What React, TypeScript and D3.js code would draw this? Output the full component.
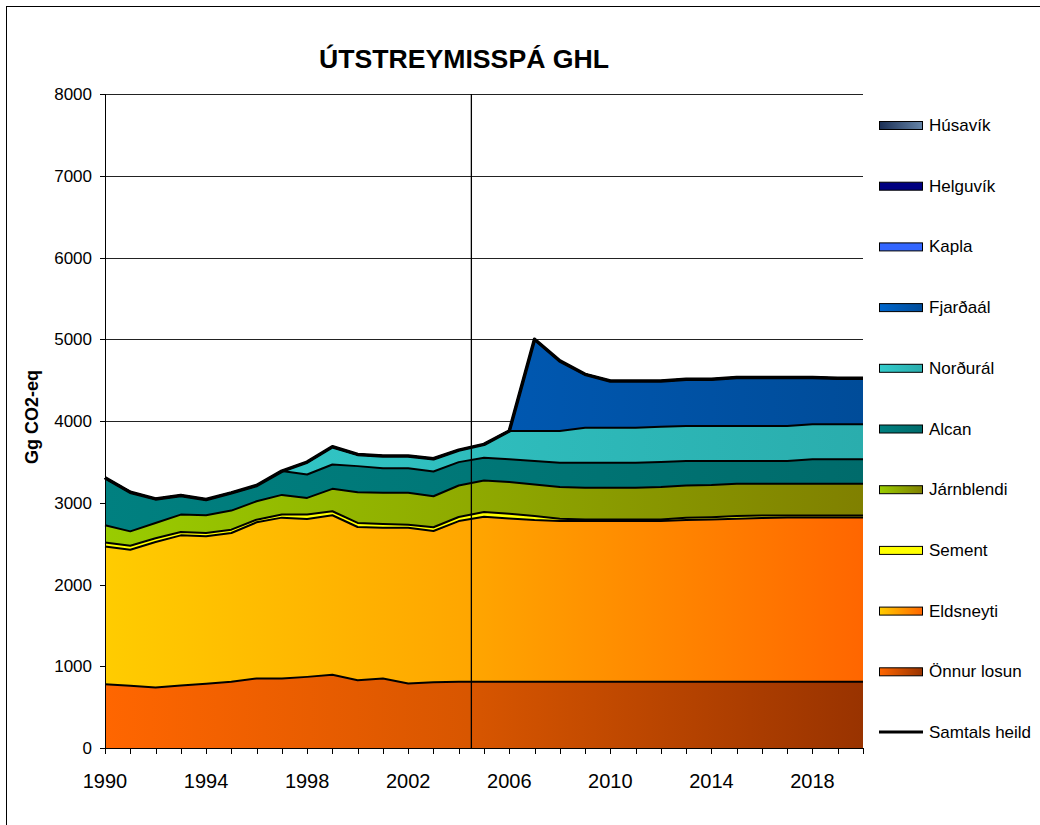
import React from 'react';
import * as d3 from 'd3';

const years = [1990, 1991, 1992, 1993, 1994, 1995, 1996, 1997, 1998, 1999, 2000, 2001, 2002, 2003, 2004, 2005, 2006, 2007, 2008, 2009, 2010, 2011, 2012, 2013, 2014, 2015, 2016, 2017, 2018, 2019, 2020];

const onnurLosun = [780, 760, 740, 765, 785, 810, 850, 850, 870, 895, 830, 850, 790, 805, 810, 810, 810, 810, 810, 810, 810, 810, 810, 810, 810, 810, 810, 810, 810, 810, 810];
const eldsneyti = [1686, 1665, 1780, 1836, 1804, 1820, 1911, 1968, 1932, 1952, 1873, 1845, 1905, 1849, 1966, 2019, 1998, 1978, 1966, 1966, 1966, 1966, 1966, 1978, 1986, 1994, 2002, 2010, 2010, 2010, 2010];
const sement = [49, 49, 45, 41, 41, 41, 32, 37, 53, 49, 50, 45, 37, 46, 50, 57, 57, 49, 28, 20, 20, 20, 20, 28, 28, 33, 33, 25, 25, 25, 25];
const jarnblendi = [209, 176, 188, 213, 217, 233, 225, 241, 204, 274, 376, 381, 389, 380, 385, 387, 388, 387, 388, 388, 388, 388, 396, 396, 392, 396, 388, 388, 388, 388, 388];
const alcan = [581, 479, 294, 233, 192, 217, 193, 291, 287, 298, 319, 302, 302, 302, 286, 278, 278, 286, 298, 306, 306, 306, 306, 298, 294, 277, 277, 277, 298, 298, 298];
const nordural = [0, 0, 0, 0, 0, 0, 0, 0, 151, 217, 143, 148, 148, 156, 147, 163, 347, 368, 388, 428, 428, 428, 432, 429, 429, 429, 429, 429, 428, 428, 428];
const fjardaal = [0, 0, 0, 0, 0, 0, 0, 0, 0, 0, 0, 0, 0, 0, 0, 0, 0, 1122, 857, 653, 572, 572, 560, 571, 571, 592, 592, 592, 572, 563, 563];
const kapla = [0, 0, 0, 0, 0, 0, 0, 0, 0, 0, 0, 0, 0, 0, 0, 0, 0, 0, 0, 0, 0, 0, 0, 0, 0, 0, 0, 0, 0, 0, 0];
const helguvik = [0, 0, 0, 0, 0, 0, 0, 0, 0, 0, 0, 0, 0, 0, 0, 0, 0, 0, 0, 0, 0, 0, 0, 0, 0, 0, 0, 0, 0, 0, 0];
const husavik = [0, 0, 0, 0, 0, 0, 0, 0, 0, 0, 0, 0, 0, 0, 0, 0, 0, 0, 0, 0, 0, 0, 0, 0, 0, 0, 0, 0, 0, 0, 0];

const seriesKeys = ['onnur', 'eldsneyti', 'sement', 'jarnblendi', 'alcan', 'nordural', 'fjardaal', 'kapla', 'helguvik', 'husavik'];
const seriesNames = ['Önnur losun', 'Eldsneyti', 'Sement', 'Járnblendi', 'Alcan', 'Norðurál', 'Fjarðaál', 'Kapla', 'Helguvík', 'Húsavík'];
const seriesValues = [onnurLosun, eldsneyti, sement, jarnblendi, alcan, nordural, fjardaal, kapla, helguvik, husavik];
// gradient stops: left, middle, right
const seriesColors = [
  ['#FF6600', '#D85600', '#993300'],
  ['#FFCC00', '#FFA600', '#FF6600'],
  ['#FFFF00', '#FFFF00', '#FFFF00'],
  ['#99CC00', '#8FAA00', '#808000'],
  ['#008080', '#007777', '#006B6B'],
  ['#33CCCC', '#2FBDBD', '#2AADAD'],
  ['#0066CC', '#0059B3', '#004C99'],
  ['#3366FF', '#3366FF', '#3366FF'],
  ['#000080', '#000080', '#000080'],
  ['#1B2F55', '#40597E', '#6685A8'],
];

const yTicks = [0, 1000, 2000, 3000, 4000, 5000, 6000, 7000, 8000];
const xLabelYears = [1990, 1994, 1998, 2002, 2006, 2010, 2014, 2018];
const projectionStart = 2004.5;
const totalName = 'Samtals heild';
const title = 'ÚTSTREYMISSPÁ GHL';
const yTitle = 'Gg CO2-eq';

const FONT = '"Liberation Sans", Arial, sans-serif';

export default function App() {
  const W = 1040;
  const H = 825;
  const left = 105, right = 863, top = 94, bottom = 748;

  const rows = years.map((yr, i) => {
    const r: any = { year: yr };
    seriesKeys.forEach((k, j) => { r[k] = seriesValues[j][i]; });
    return r;
  });
  const totals = rows.map((r) => seriesKeys.reduce((s, k) => s + r[k], 0));

  const x = d3.scaleLinear().domain([years[0], years[years.length - 1]]).range([left, right]);
  const y = d3.scaleLinear().domain([0, 8000]).range([bottom, top]);

  const stacked = d3.stack<any>().keys(seriesKeys)(rows);
  const area = d3.area<any>()
    .x((d: any) => x(d.data.year))
    .y0((d: any) => y(d[0]))
    .y1((d: any) => y(d[1]));
  const topLine = d3.line<any>()
    .x((d: any) => x(d.data.year))
    .y((d: any) => y(d[1]));
  const totalLine = d3.line<number>()
    .x((_, i) => x(years[i]))
    .y((d) => y(d));

  const legendX = 879;
  const legendY0 = 125;
  const legendStep = 60.7;
  const legendItems = seriesKeys.map((k, i) => ({ key: k, name: seriesNames[i], idx: i })).reverse();

  return (
    <svg width={W} height={H} style={{ position: 'absolute', left: 0, top: 0, background: '#fff' }} fontFamily={FONT}>
      <defs>
        {seriesColors.map((c, i) => (
          <linearGradient key={'p' + i} id={'pg' + i} gradientUnits="userSpaceOnUse" x1={left} x2={right} y1={0} y2={0}>
            <stop offset="0" stopColor={c[0]} />
            <stop offset="0.48" stopColor={c[1]} />
            <stop offset="1" stopColor={c[2]} />
          </linearGradient>
        ))}
        {seriesColors.map((c, i) => (
          <linearGradient key={'l' + i} id={'lg' + i} x1="0" x2="1" y1="0" y2="0">
            <stop offset="0" stopColor={c[0]} />
            <stop offset="1" stopColor={c[2]} />
          </linearGradient>
        ))}
      </defs>
      <rect x={0} y={0} width={W} height={H} fill="#fff" />
      <rect x={6.5} y={6.5} width={W + 20} height={H + 20} fill="none" stroke="#000" strokeWidth={1} />

      <text x={464} y={68} textAnchor="middle" fontSize={26} fontWeight="bold" fill="#000" textLength={290} lengthAdjust="spacingAndGlyphs">{title}</text>

      {/* gridlines */}
      {yTicks.filter((t) => t > 0).map((t) => (
        <line key={'g' + t} x1={left} x2={right} y1={Math.round(y(t)) + 0.5} y2={Math.round(y(t)) + 0.5} stroke="#222" strokeWidth={1} />
      ))}

      {/* areas */}
      {stacked.map((s, i) => (
        <path key={'a' + i} d={area(s) || ''} fill={`url(#pg${i})`} stroke="none" />
      ))}
      {stacked.map((s, i) => (
        <path key={'tl' + i} d={topLine(s) || ''} fill="none" stroke="#000" strokeWidth={2} strokeLinejoin="round" />
      ))}
      <path d={totalLine(totals) || ''} fill="none" stroke="#000" strokeWidth={3.5} strokeLinejoin="round" />

      {/* projection marker */}
      <line x1={x(projectionStart)} x2={x(projectionStart)} y1={top} y2={bottom} stroke="#000" strokeWidth={1.3} />

      {/* axes */}
      <line x1={left + 0.5} x2={left + 0.5} y1={top} y2={bottom} stroke="#000" strokeWidth={1} />
      <line x1={left} x2={right} y1={bottom + 0.5} y2={bottom + 0.5} stroke="#000" strokeWidth={1} />
      {yTicks.map((t) => (
        <g key={'yt' + t}>
          <line x1={left - 5} x2={left} y1={Math.round(y(t)) + 0.5} y2={Math.round(y(t)) + 0.5} stroke="#000" />
          <text x={92} y={y(t) + 6} textAnchor="end" fontSize={17} fill="#000">{t}</text>
        </g>
      ))}
      {years.map((yr) => (
        <line key={'xt' + yr} x1={Math.round(x(yr)) + 0.5} x2={Math.round(x(yr)) + 0.5} y1={bottom} y2={bottom + 6} stroke="#000" />
      ))}
      {xLabelYears.map((yr) => (
        <text key={'xl' + yr} x={x(yr)} y={788} textAnchor="middle" fontSize={20} fill="#000">{yr}</text>
      ))}
      <text transform={`translate(38,417) rotate(-90)`} textAnchor="middle" fontSize={18} fontWeight="bold" fill="#000">{yTitle}</text>

      {/* legend */}
      {legendItems.map((it, j) => {
        const cy = legendY0 + j * legendStep;
        return (
          <g key={'lg' + it.key}>
            <rect x={legendX + 0.5} y={cy - 3.5} width={43} height={8} fill={`url(#lg${it.idx})`} stroke="#000" strokeWidth={1} />
            <text x={929} y={cy + 6} fontSize={17} fill="#000">{it.name}</text>
          </g>
        );
      })}
      {(() => {
        const cy = legendY0 + legendItems.length * legendStep;
        return (
          <g>
            <line x1={legendX} x2={legendX + 44} y1={cy} y2={cy} stroke="#000" strokeWidth={3} />
            <text x={929} y={cy + 6} fontSize={17} fill="#000">{totalName}</text>
          </g>
        );
      })()}
    </svg>
  );
}
